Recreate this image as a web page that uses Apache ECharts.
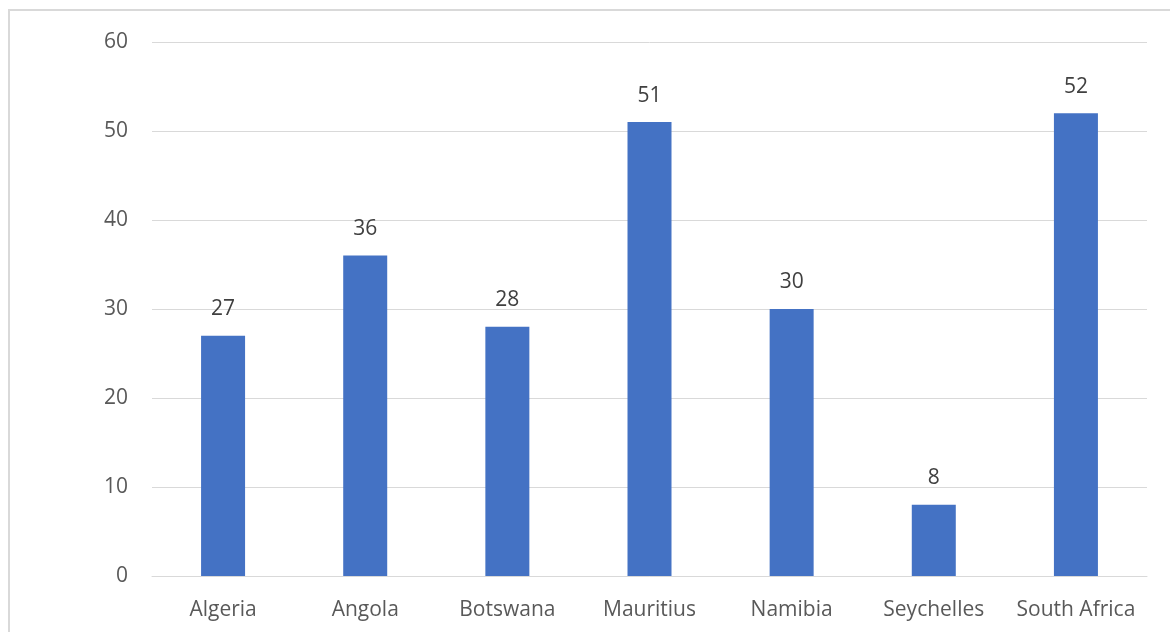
<!DOCTYPE html>
<html>
<head>
<meta charset="utf-8">
<script src="https://cdn.jsdelivr.net/npm/echarts@6/dist/echarts.min.js"></script>
<style>
  html, body { margin: 0; padding: 0; background: #fff; }
  #frame { position: absolute; left: 8px; top: 9px; width: 1170px; height: 640px; border: 2px solid #d9d9d9; box-sizing: border-box; }
  #chart { position: absolute; left: 0; top: 0; width: 1170px; height: 632px; }
</style>
</head>
<body>
<div id="frame"></div>
<div id="chart"></div>
<script>
const countries = ['Algeria', 'Angola', 'Botswana', 'Mauritius', 'Namibia', 'Seychelles', 'South Africa'];
const values = [27, 36, 28, 51, 30, 8, 52];
const yTicks = [0, 10, 20, 30, 40, 50, 60];

const fontFamily = '"Open Sans", "Liberation Sans", sans-serif';
const chart = echarts.init(document.getElementById('chart'), null, { renderer: 'canvas' });
chart.setOption({
  animation: false,
  backgroundColor: 'transparent',
  grid: { left: 152, right: 23, top: 42, bottom: 56, containLabel: false },
  xAxis: {
    type: 'category',
    data: countries,
    axisLine: { show: true, lineStyle: { color: '#d9d9d9', width: 1 } },
    axisTick: { show: false },
    axisLabel: { color: '#595959', fontSize: 21, fontFamily, margin: 24, interval: 0, hideOverlap: false }
  },
  yAxis: {
    type: 'value',
    min: yTicks[0],
    max: yTicks[yTicks.length - 1],
    interval: 10,
    axisLine: { show: false },
    axisTick: { show: false },
    splitLine: { lineStyle: { color: '#d9d9d9', width: 1 } },
    axisLabel: { color: '#595959', fontSize: 21, fontFamily, margin: 24 }
  },
  series: [{
    type: 'bar',
    data: values,
    barWidth: 44,
    itemStyle: { color: '#4472c4' },
    label: { show: true, position: 'top', distance: 16, color: '#404040', fontSize: 21, fontFamily }
  }]
});
</script>
</body>
</html>
